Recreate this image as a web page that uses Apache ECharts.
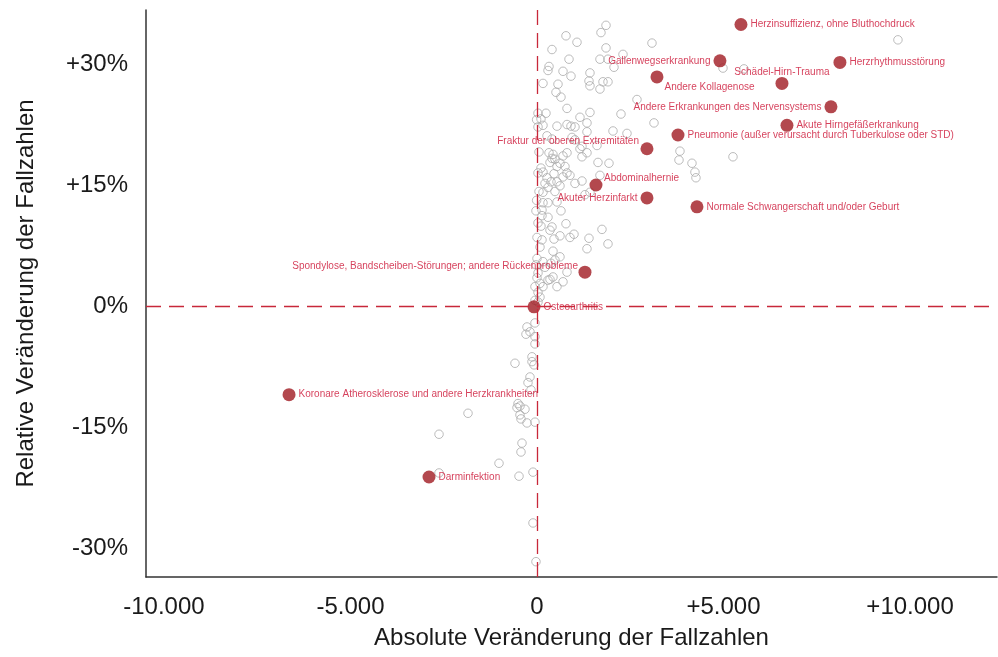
<!DOCTYPE html>
<html>
<head>
<meta charset="utf-8">
<script src="https://cdn.jsdelivr.net/npm/echarts@6/dist/echarts.min.js"></script>
<style>html,body{margin:0;padding:0;background:#fff}#c{width:998px;height:657px}</style>
</head>
<body>
<div id="c"></div>
<script>
// Grey background diseases: absolute change (cases), relative change (%)
const greyX = [1850,1715,777,1072,3082,9675,402,1850,2305,1688,1903,858,322,295,697,911,2064,1420,4985,5548,
161,563,1394,1420,1769,1903,1688,509,643,2680,804,1420,2251,27,241,107,-10,1152,536,804,
911,1018,1340,1340,2037,2412,3136,161,27,268,402,938,1018,1206,1152,1340,1206,1608,54,322,
429,402,482,348,697,804,616,536,750,107,161,27,1635,1930,804,697,268,375,214,295,
456,536,616,1018,1206,1688,54,161,482,1420,1286,3832,3806,4154,5253,4234,4261,884,-10,161,
295,536,-27,134,643,134,295,27,107,402,348,777,1742,992,884,616,456,1394,0,134,
80,1903,1340,429,0,-27,161,214,616,482,375,804,697,429,348,27,0,80,-54,161,
27,80,-54,536,295,27,
-268,-188,-295,-54,-54,-54,-134,-590,-134,-80,-188,-241,-161,-509,-536,-456,-322,-456,-429,-268,
-54,-402,-429,-1018,-107,-482,-107,-27,-1849,-2626,-2626];
const greyY = [34.8,33.9,33.5,32.7,32.6,33.0,31.8,32.0,31.2,30.6,30.6,30.6,29.7,29.2,29.1,28.5,29.6,28.9,29.5,29.4,
27.6,27.5,27.9,27.3,27.8,27.8,26.9,26.5,25.9,25.6,24.5,24.0,23.8,23.9,23.9,23.2,23.1,23.4,22.3,22.5,
22.3,22.2,22.7,21.6,21.7,21.4,22.7,22.4,22.2,21.1,20.7,20.9,20.6,19.8,19.5,19.0,18.5,19.9,19.1,19.0,
18.8,18.3,18.2,17.8,18.6,19.0,17.7,17.3,17.3,17.1,16.6,16.5,17.8,17.7,16.5,16.0,15.9,15.4,15.2,14.7,
16.4,15.4,14.9,15.2,15.5,16.2,14.2,14.1,14.2,14.1,13.8,19.2,18.1,17.7,18.5,16.6,15.9,16.2,13.1,12.8,
12.8,12.9,11.8,11.9,11.8,11.2,11.0,10.3,9.9,9.8,9.4,10.2,9.5,8.9,8.5,8.7,8.3,8.4,8.5,8.2,
7.3,7.7,7.1,6.8,5.9,5.1,5.5,4.8,6.1,5.7,5.3,4.2,3.0,3.6,3.3,4.1,3.5,2.8,2.4,2.4,
1.7,1.1,0.7,2.4,3.2,0.5,
-2.6,-3.2,-3.5,-2.1,-3.8,-4.7,-6.3,-7.1,-6.9,-7.3,-8.8,-9.5,-10.4,-12.1,-12.6,-12.4,-12.8,-13.5,-14.0,-14.5,
-14.4,-17.0,-18.1,-19.5,-20.6,-21.1,-26.9,-31.7,-13.3,-15.9,-20.7];

// Highlighted diseases
const hlNames = ["Herzinsuffizienz, ohne Bluthochdruck","Gallenwegserkrankung","Herzrhythmusstörung","Andere Kollagenose",
"Schädel-Hirn-Trauma","Andere Erkrankungen des Nervensystems","Akute Hirngefäßerkrankung",
"Pneumonie (außer verursacht durch Tuberkulose oder STD)","Fraktur der oberen Extremitäten","Abdominalhernie",
"Akuter Herzinfarkt","Normale Schwangerschaft und/oder Geburt","Spondylose, Bandscheiben-Störungen; andere Rückenprobleme",
"Osteoarthritis","Koronare Atherosklerose und andere Herzkrankheiten","Darminfektion"];
const hlX = [5467,4904,8120,3216,6566,7879,6700,3779,2948,1581,2948,4288,1286,-80,-6646,-2894];
const hlY = [34.9,30.4,30.2,28.4,27.6,24.7,22.4,21.2,19.5,15.0,13.4,12.3,4.2,-0.1,-11.0,-21.2];

const xTicks = [-10000,-5000,0,5000,10000];
const yTicks = [-30,-15,0,15,30];

// label placement (style only)
const labelPlace = {
  "Gallenwegserkrankung": {position:'left'},
  "Andere Kollagenose": {position:[14,16.5], align:'left', verticalAlign:'middle'},
  "Schädel-Hirn-Trauma": {position:[6.5,-4.5], align:'center', verticalAlign:'middle'},
  "Andere Erkrankungen des Nervensystems": {position:'left'},
  "Fraktur der oberen Extremitäten": {position:[-1.5,-0.5], align:'right', verticalAlign:'middle'},
  "Abdominalhernie": {position:[14.5,-0.5], align:'left', verticalAlign:'middle'},
  "Akuter Herzinfarkt": {position:'left'},
  "Spondylose, Bandscheiben-Störungen; andere Rückenprobleme": {position:[-0.5,0.5], align:'right', verticalAlign:'middle'}
};

const FONT = '"Liberation Sans", Arial, sans-serif';
const fmtX = v => v === 0 ? '0' : (v > 0 ? '+' : '-') + Math.abs(v).toLocaleString('de-DE');
const fmtY = v => v === 0 ? '0%' : (v > 0 ? '+' : '-') + Math.abs(v) + '%';

const greyData = greyX.map((x, i) => [x, greyY[i]]);
const hlData = hlNames.map((n, i) => {
  const p = labelPlace[n] || {position:'right'};
  return { name: n, value: [hlX[i], hlY[i]], label: Object.assign({}, p) };
});

const chart = echarts.init(document.getElementById('c'), null, {renderer:'canvas'});
chart.setOption({
  animation: false,
  backgroundColor: '#fff',
  textStyle: { fontFamily: FONT },
  grid: { left: 146, right: 1, top: 10, bottom: 80, containLabel: false },
  xAxis: {
    type: 'value', min: -10480, max: 12330,
    name: 'Absolute Veränderung der Fallzahlen', nameLocation: 'middle', nameGap: 49,
    nameTextStyle: { fontSize: 24, color: '#1a1a1a', fontFamily: FONT },
    axisLine: { show: true, onZero: false, lineStyle: { color: '#333', width: 1.5 } },
    axisTick: { show: false },
    splitLine: { show: false },
    axisLabel: { customValues: xTicks, formatter: fmtX, fontSize: 24, color: '#1a1a1a', margin: 18, fontFamily: FONT }
  },
  yAxis: {
    type: 'value', min: -33.6, max: 36.7,
    name: 'Relative Veränderung der Fallzahlen', nameLocation: 'middle', nameGap: 108,
    nameTextStyle: { fontSize: 24, color: '#1a1a1a', fontFamily: FONT },
    axisLine: { show: true, onZero: false, lineStyle: { color: '#333', width: 1.5 } },
    axisTick: { show: false },
    splitLine: { show: false },
    axisLabel: { customValues: yTicks, formatter: fmtY, fontSize: 24, color: '#1a1a1a', margin: 18, fontFamily: FONT }
  },
  series: [
    {
      type: 'scatter', data: greyData, symbol: 'circle', symbolSize: 8.5,
      itemStyle: { color: 'rgba(255,255,255,0)', borderColor: '#ababab', borderWidth: 1 },
      markLine: {
        silent: true, symbol: 'none', label: { show: false },
        lineStyle: { color: '#c8283a', type: [15, 8], width: 1.3 },
        data: [{ xAxis: 0 }, { yAxis: 0 }]
      },
      z: 2
    },
    {
      type: 'scatter', data: hlData, symbol: 'circle', symbolSize: 13,
      itemStyle: { color: '#a01a22' },
      label: { show: true, formatter: '{b}', fontSize: 10, color: '#cc1133', distance: 3, fontFamily: FONT },
      labelLayout: { hideOverlap: false },
      z: 3
    }
  ]
});
</script>
</body>
</html>
